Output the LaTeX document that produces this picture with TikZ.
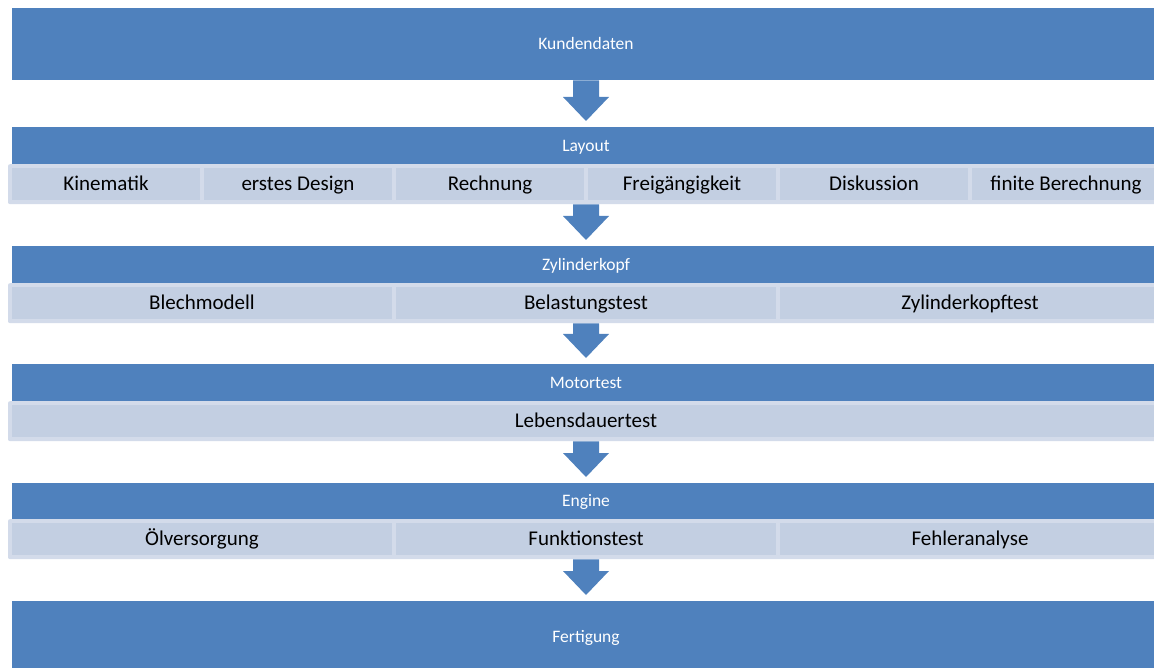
\documentclass[tikz,border=0pt]{standalone}
\usepackage{fontspec}
\setmainfont{Carlito}
\usetikzlibrary{calc}
\definecolor{barblue}{HTML}{4F81BD}
\definecolor{cellfill}{HTML}{C3CFE2}
\definecolor{rowfill}{HTML}{D3DBEA}
\tikzset{
  bar/.style={fill=barblue, draw=none, text=white, minimum width=1148pt, inner sep=0pt,
    anchor=north, font=\fontsize{17.5}{20}\selectfont, text height=11.3pt, text depth=0pt},
  rowbox/.style={fill=rowfill, draw=none, rounded corners=2pt, minimum width=1156pt,
    minimum height=40pt, inner sep=0pt, anchor=north},
  cell/.style={fill=cellfill, draw=none, minimum height=32pt, inner sep=0pt, text=black,
    font=\fontsize{21}{24}\selectfont, text height=13.5pt, text depth=0pt},
  flowarrow/.style={fill=barblue, draw=none}
}
\newcommand\flowdown[2]{%
  \fill[flowarrow] ($(#1.south)+(-13,0)$) -- ($(#2.north)+(-13,-30)$) -- ($(#2.north)+(-23,-30)$)
    -- ($(#2.north)+(0,-6)$) -- ($(#2.north)+(23,-30)$) -- ($(#2.north)+(13,-30)$)
    -- ($(#1.south)+(13,0)$) -- cycle;}
\begin{document}
\begin{tikzpicture}[x=1pt,y=-1pt]
\useasboundingbox (0,0) rectangle (1154,668);
\clip (0,0) rectangle (1154,668);

% Kundendaten
\node[bar, minimum height=72pt] (kd) at (586,8) {Kundendaten};

% Layout
\node[bar, minimum height=37pt] (lay) at (586,127) {Layout};
\node[rowbox] (r1) at (586,164) {};
\node[cell, minimum width=188pt] (c11) at (106,184) {Kinematik};
\node[cell, minimum width=188pt] (c12) at (298,184) {erstes Design};
\node[cell, minimum width=188pt] (c13) at (490,184) {Rechnung};
\node[cell, minimum width=188pt] (c14) at (682,184) {Freigängigkeit};
\node[cell, minimum width=188pt] (c15) at (874,184) {Diskussion};
\node[cell, minimum width=188pt] (c16) at (1066,184) {finite Berechnung};

% Zylinderkopf
\node[bar, minimum height=37pt] (zyl) at (586,246) {Zylinderkopf};
\node[rowbox] (r2) at (586,283) {};
\node[cell, minimum width=380pt] (c21) at (202,303) {Blechmodell};
\node[cell, minimum width=380pt] (c22) at (586,303) {Belastungstest};
\node[cell, minimum width=380pt] (c23) at (970,303) {Zylinderkopftest};

% Motortest
\node[bar, minimum height=37pt] (mot) at (586,364) {Motortest};
\node[rowbox] (r3) at (586,401) {};
\node[cell, minimum width=1148pt] (c31) at (586,421) {Lebensdauertest};

% Engine
\node[bar, minimum height=36pt] (eng) at (586,483) {Engine};
\node[rowbox] (r4) at (586,519) {};
\node[cell, minimum width=380pt] (c41) at (202,539) {Ölversorgung};
\node[cell, minimum width=380pt] (c42) at (586,539) {Funktionstest};
\node[cell, minimum width=380pt] (c43) at (970,539) {Fehleranalyse};

% Fertigung
\node[bar, minimum height=72pt] (fer) at (586,601) {Fertigung};

% arrows
\flowdown{kd}{lay}
\flowdown{r1}{zyl}
\flowdown{r2}{mot}
\flowdown{r3}{eng}
\flowdown{r4}{fer}
\end{tikzpicture}
\end{document}
